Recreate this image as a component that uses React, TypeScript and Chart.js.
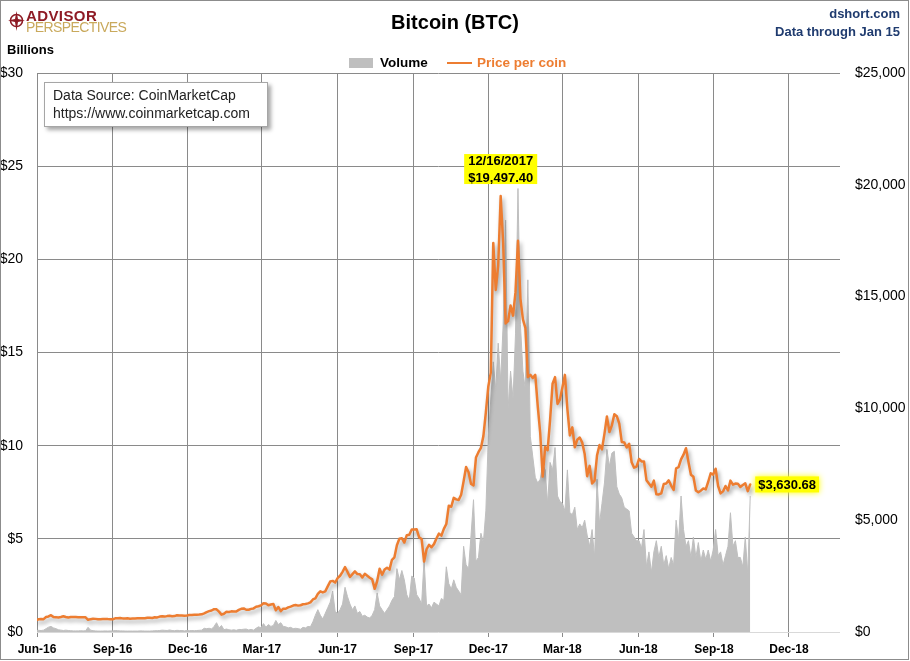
import React, { useEffect, useRef } from 'react';
import { Chart, registerables } from 'chart.js';

Chart.register(...registerables);

const FONT = '"Liberation Sans", Arial, sans-serif';

// ---- data ----
const AXIS_START = '2016-06-01';
const AXIS_END = '2019-02-01';
const SERIES_START = '2016-05-31';
const STEP_DAYS = 3;

const tickDates = ['2016-06-01', '2016-09-01', '2016-12-01', '2017-03-01', '2017-06-01', '2017-09-01', '2017-12-01', '2018-03-01', '2018-06-01', '2018-09-01', '2018-12-01'];
const tickLabels = ['Jun-16', 'Sep-16', 'Dec-16', 'Mar-17', 'Jun-17', 'Sep-17', 'Dec-17', 'Mar-18', 'Jun-18', 'Sep-18', 'Dec-18'];

// price per coin (USD), every 3 days from 2016-05-31
const price = [
  531, 569, 585, 575, 670, 694, 750, 666, 665, 647,
  673, 704, 670, 652, 675, 666, 672, 665, 661, 655,
  656, 547, 575, 591, 587, 570, 573, 581, 584, 577,
  574, 572, 610, 614, 623, 609, 607, 610, 597, 600,
  605, 613, 610, 617, 617, 636, 641, 630, 657, 654,
  689, 700, 688, 711, 723, 705, 712, 751, 738, 737,
  729, 742, 764, 758, 772, 769, 778, 791, 834, 890,
  933, 961, 1021, 1013, 911, 777, 818, 908, 896, 923,
  915, 913, 989, 1036, 1055, 996, 995, 1035, 1055, 1126,
  1150, 1190, 1284, 1276, 1195, 1227, 1255, 971, 1119, 935,
  1045, 1039, 1099, 1133, 1182, 1205, 1180, 1197, 1240, 1251,
  1281, 1327, 1456, 1508, 1701, 1820, 1772, 1819, 2039, 2255,
  2285, 2211, 2408, 2515, 2692, 2900, 2690, 2460, 2590, 2710,
  2590, 2585, 2435, 2600, 2515, 2425, 2353, 1930, 2270, 2830,
  2560, 2790, 2875, 2790, 3230, 3340, 3880, 4170, 4195, 4000,
  4330, 4350, 4580, 4580, 4590, 4230, 4160, 3150, 3700, 3900,
  3790, 3930, 4180, 4400, 4310, 4610, 4830, 5650, 5600, 6000,
  5930, 5900, 6140, 6740, 7380, 7140, 6620, 6560, 7800, 8040,
  8230, 8760, 9820, 10980, 11600, 17400, 15300, 16400, 19497.4, 17400,
  13800, 13900, 14600, 14150, 15200, 17500, 14900, 13980, 13600, 11400,
  11500, 11360, 11500, 10100, 8900, 6950, 8270, 8130, 9490, 11100,
  11400, 10200, 10400, 10950, 11500, 9970, 8790, 9150, 8260, 8600,
  8700, 8470, 7960, 6970, 7430, 6640, 6770, 7900, 8360, 8170,
  8860, 9640, 8940, 9240, 9740, 9650, 9320, 8500, 8480, 8250,
  8420, 7590, 7350, 7400, 7740, 7630, 7630, 6790, 6640, 6500,
  6770, 6160, 6150, 6200, 6620, 6640, 6780, 6550, 6350, 7320,
  7370, 7720, 7930, 8220, 7600, 7030, 6940, 6330, 6250, 6320,
  6420, 6380, 6720, 7100, 7040, 7300, 6530, 6200, 6290, 6530,
  6330, 6770, 6590, 6640, 6630, 6490, 6570, 6650, 6300, 6600,
];

// daily volume (USD billions), same dates
const volume = [
  0.08, 0.09, 0.08, 0.10, 0.18, 0.26, 0.30, 0.22, 0.18, 0.12,
  0.10, 0.08, 0.10, 0.08, 0.07, 0.06, 0.06, 0.06, 0.07, 0.06,
  0.07, 0.25, 0.10, 0.07, 0.06, 0.05, 0.05, 0.05, 0.06, 0.05,
  0.06, 0.06, 0.08, 0.07, 0.06, 0.06, 0.05, 0.05, 0.05, 0.05,
  0.05, 0.05, 0.06, 0.06, 0.05, 0.05, 0.05, 0.06, 0.07, 0.07,
  0.08, 0.10, 0.09, 0.08, 0.11, 0.08, 0.07, 0.09, 0.08, 0.08,
  0.06, 0.08, 0.07, 0.08, 0.07, 0.08, 0.09, 0.10, 0.20, 0.18,
  0.20, 0.16, 0.30, 0.50, 0.22, 0.35, 0.12, 0.16, 0.12, 0.10,
  0.12, 0.09, 0.14, 0.13, 0.15, 0.16, 0.11, 0.14, 0.10, 0.20,
  0.28, 0.22, 0.45, 0.25, 0.40, 0.30, 0.35, 0.62, 0.40, 0.50,
  0.30, 0.28, 0.22, 0.25, 0.18, 0.20, 0.18, 0.15, 0.25, 0.22,
  0.30, 0.28, 0.55, 0.90, 1.20, 0.90, 0.70, 1.00, 1.30, 1.60,
  2.20, 1.10, 1.00, 1.20, 1.50, 2.40, 1.90, 1.50, 1.20, 1.40,
  1.00, 1.10, 0.85, 0.90, 0.80, 0.75, 0.90, 1.20, 2.10, 1.40,
  1.20, 1.00, 1.20, 1.40, 1.70, 1.90, 3.40, 2.80, 3.30, 2.80,
  2.00, 1.70, 3.00, 2.90, 2.00, 1.80, 1.50, 3.90, 1.40, 1.50,
  1.30, 1.60, 1.50, 1.40, 1.80, 1.70, 3.50, 2.60, 2.30, 2.80,
  2.40, 2.20, 2.00, 4.60, 3.60, 3.40, 5.20, 7.10, 3.80, 4.00,
  5.30, 4.80, 6.50, 10.5, 12.5, 14.5, 13.0, 15.5, 13.5, 16.5,
  22.1, 12.0, 14.0, 12.5, 16.0, 23.8, 16.5, 14.0, 13.0, 18.9,
  10.5, 9.4, 8.3, 8.0, 8.2, 9.0, 8.7, 6.9, 9.1, 8.7,
  9.9, 7.3, 7.0, 6.9, 6.5, 8.7, 6.4, 6.3, 6.7, 5.5,
  5.8, 5.6, 6.0, 5.2, 4.6, 5.5, 4.0, 8.2, 5.8, 6.9,
  8.0, 9.8, 8.9, 9.6, 9.7, 7.8, 7.4, 7.2, 6.7, 6.6,
  6.5, 5.3, 5.1, 4.9, 4.9, 4.5, 5.5, 3.5, 4.3, 3.2,
  4.3, 4.9, 4.0, 4.6, 3.6, 4.1, 3.4, 4.0, 3.6, 6.0,
  4.9, 7.3, 5.5, 4.6, 4.9, 4.0, 5.1, 4.0, 4.8, 3.8,
  4.4, 3.9, 4.4, 3.8, 4.4, 5.5, 4.1, 4.3, 3.6, 4.1,
  4.6, 6.4, 4.6, 4.9, 4.0, 4.0, 3.5, 5.1, 3.1, 7.3,
];

const lastPriceLabel = 3630.68;

// ---- helpers ----
const DAY_MS = 86400000;
const dayOf = (d: string) => (Date.parse(d) - Date.parse(AXIS_START)) / DAY_MS;
const xDays = price.map((_, i) => dayOf(SERIES_START) + i * STEP_DAYS);
const tickDays = tickDates.map(dayOf);
const money = (v: number) =>
  '$' + v.toLocaleString('en-US', { minimumFractionDigits: 2, maximumFractionDigits: 2 });
const dateLabel = (i: number) => {
  const d = new Date(Date.parse(SERIES_START) + i * STEP_DAYS * DAY_MS);
  return `${d.getUTCMonth() + 1}/${d.getUTCDate()}/${d.getUTCFullYear()}`;
};

const GRID = '#8a8a8a';

const annotationPlugin = {
  id: 'btcAnnotations',
  beforeDatasetDraw(chart: any, args: any) {
    if (args.index === 0) {
      const ctx = chart.ctx;
      ctx.save();
      ctx.shadowColor = 'rgba(0,0,0,0.35)';
      ctx.shadowBlur = 4;
      ctx.shadowOffsetX = 2;
      ctx.shadowOffsetY = 3;
    }
  },
  afterDatasetDraw(chart: any, args: any) {
    if (args.index === 0) chart.ctx.restore();
  },
  afterDatasetsDraw(chart: any) {
    const ctx = chart.ctx;
    const xs = chart.scales.x;
    const ys = chart.scales.y2;
    let pi = 0;
    price.forEach((v, i) => {
      if (v > price[pi]) pi = i;
    });
    const px = xs.getPixelForValue(xDays[pi]);
    const py = ys.getPixelForValue(price[pi]);
    ctx.save();
    ctx.font = `bold 13px ${FONT}`;
    const l1 = dateLabel(pi);
    const l2 = money(price[pi]);
    const w = Math.max(ctx.measureText(l1).width, ctx.measureText(l2).width) + 8;
    ctx.fillStyle = '#ffff00';
    ctx.fillRect(px - w / 2, py - 42, w, 30);
    ctx.fillStyle = '#000';
    ctx.textAlign = 'center';
    ctx.textBaseline = 'middle';
    ctx.fillText(l1, px, py - 35);
    ctx.fillText(l2, px, py - 17.5);

    const li = price.length - 1;
    const ex = xs.getPixelForValue(xDays[li]);
    const ey = ys.getPixelForValue(price[li]);
    const t = money(lastPriceLabel);
    const tw = ctx.measureText(t).width + 6;
    ctx.shadowColor = 'rgba(255,255,0,1)';
    ctx.shadowBlur = 6;
    ctx.fillStyle = '#ffff00';
    ctx.fillRect(ex + 5, ey - 8, tw, 16);
    ctx.shadowBlur = 0;
    ctx.shadowColor = 'rgba(0,0,0,0)';
    ctx.fillStyle = '#000';
    ctx.textAlign = 'left';
    ctx.fillText(t, ex + 8, ey + 0.5);
    ctx.restore();
  },
};

function BitcoinChart() {
  const ref = useRef<HTMLCanvasElement | null>(null);
  useEffect(() => {
    if (!ref.current) return;
    const chart = new Chart(ref.current, {
      type: 'line',
      data: {
        datasets: [
          {
            label: 'Price per coin',
            data: price.map((v, i) => ({ x: xDays[i], y: v })),
            yAxisID: 'y2',
            borderColor: '#ed7d31',
            borderWidth: 2.5,
            pointRadius: 0,
            fill: false,
            tension: 0,
            borderJoinStyle: 'round',
            borderCapStyle: 'round',
            order: 0,
          },
          {
            label: 'Volume',
            data: volume.map((v, i) => ({ x: xDays[i], y: v })),
            yAxisID: 'y',
            borderColor: '#bfbfbf',
            borderWidth: 1,
            backgroundColor: '#bfbfbf',
            pointRadius: 0,
            fill: 'origin',
            tension: 0,
            order: 1,
          },
        ],
      } as any,
      options: {
        animation: false,
        responsive: false,
        events: [],
        layout: { padding: { top: 73, left: 0, right: 0, bottom: 0 } },
        plugins: { legend: { display: false }, tooltip: { enabled: false }, title: { display: false } },
        scales: {
          x: {
            type: 'linear',
            min: 0,
            max: dayOf(AXIS_END),
            afterBuildTicks: (s: any) => {
              s.ticks = tickDays.map((v) => ({ value: v }));
            },
            afterFit: (s: any) => {
              s.height = 29;
            },
            ticks: {
              autoSkip: false,
              maxRotation: 0,
              padding: 5,
              color: '#000',
              font: { family: FONT, size: 12, weight: 'bold' },
              callback: (v: any) => {
                const k = tickDays.indexOf(Number(v));
                return k >= 0 ? tickLabels[k] : '';
              },
            },
            grid: { color: GRID, drawTicks: true, tickLength: 5, tickColor: GRID, lineWidth: 1 },
            border: { display: false },
          },
          y: {
            position: 'left',
            min: 0,
            max: 30,
            afterFit: (s: any) => {
              s.width = 37;
            },
            ticks: {
              stepSize: 5,
              padding: 14,
              color: '#000',
              font: { family: FONT, size: 14 },
              callback: (v: any) => '$' + v,
            },
            grid: {
              drawTicks: false,
              color: (c: any) => (c.tick && c.tick.value === 0 ? '#d9d9d9' : GRID),
            },
            border: { display: false },
          },
          y2: {
            position: 'right',
            min: 0,
            max: 25000,
            afterFit: (s: any) => {
              s.width = 70;
            },
            ticks: {
              stepSize: 5000,
              padding: 15,
              color: '#000',
              font: { family: FONT, size: 14 },
              callback: (v: any) => '$' + Number(v).toLocaleString('en-US'),
            },
            grid: { display: false, drawTicks: false },
            border: { display: false },
          },
        },
      } as any,
      plugins: [annotationPlugin],
    });
    return () => chart.destroy();
  }, []);
  return <canvas ref={ref} width={910} height={661} style={{ position: 'absolute', left: 0, top: 0 }} />;
}

const abs = (s: React.CSSProperties): React.CSSProperties => ({ position: 'absolute', whiteSpace: 'nowrap', ...s });

export default function App() {
  return (
    <div style={{ position: 'absolute', left: 0, top: 0, width: 910, height: 661, background: '#fff', fontFamily: FONT, overflow: 'hidden' }}>
      <BitcoinChart />
      {/* logo */}
      <svg style={abs({ left: 8, top: 8 })} width={18} height={26} viewBox="0 0 18 26">
        <circle cx={8.5} cy={12.5} r={6} fill="none" stroke="#8e1b25" strokeWidth={1.6} />
        <polygon points="8.5,3 10,11 17,12.5 10,14 8.5,23 7,14 0,12.5 7,11" fill="#8e1b25" />
      </svg>
      <div style={abs({ left: 26, top: 8, fontSize: 15, lineHeight: '15px', fontWeight: 700, color: '#8e1b25', letterSpacing: 0.4 })}>ADVISOR</div>
      <div style={abs({ left: 26, top: 20, fontSize: 14, lineHeight: '14px', color: '#c9a95c', letterSpacing: -0.6 })}>PERSPECTIVES</div>

      <div style={abs({ left: 0, width: 910, top: 10, textAlign: 'center', fontSize: 20, lineHeight: '24px', fontWeight: 700, color: '#000' })}>Bitcoin (BTC)</div>
      <div style={abs({ right: 10, top: 6, fontSize: 13, lineHeight: '16px', fontWeight: 700, color: '#1f3b6f', textAlign: 'right' })}>dshort.com</div>
      <div style={abs({ right: 10, top: 24, fontSize: 13, lineHeight: '16px', fontWeight: 700, color: '#1f3b6f', textAlign: 'right' })}>Data through Jan 15</div>
      <div style={abs({ left: 7, top: 42, fontSize: 13, lineHeight: '16px', fontWeight: 700, color: '#000' })}>Billions</div>

      {/* legend */}
      <div style={abs({ left: 349, top: 58, width: 24, height: 10, background: '#bfbfbf' })} />
      <div style={abs({ left: 380, top: 55, fontSize: 13.5, lineHeight: '16px', fontWeight: 700, color: '#000' })}>Volume</div>
      <div style={abs({ left: 447, top: 61.5, width: 25, height: 2.5, background: '#ed7d31' })} />
      <div style={abs({ left: 477, top: 55, fontSize: 13.5, lineHeight: '16px', fontWeight: 700, color: '#ed7d31' })}>Price per coin</div>

      {/* data source box */}
      <div
        style={abs({
          left: 44,
          top: 82,
          width: 224,
          height: 45,
          boxSizing: 'border-box',
          border: '1px solid #a6a6a6',
          background: '#fff',
          boxShadow: '3px 3px 4px rgba(0,0,0,0.35)',
          padding: '4px 0 0 8px',
          fontSize: 14,
          lineHeight: '17.6px',
          color: '#222',
        })}
      >
        <div>Data Source: CoinMarketCap</div>
        <div>https://www.coinmarketcap.com</div>
      </div>

      {/* outer border */}
      <div style={abs({ left: 0, top: 0, width: 909, height: 660, boxSizing: 'border-box', border: '1px solid #8c8c8c', pointerEvents: 'none' })} />
    </div>
  );
}
